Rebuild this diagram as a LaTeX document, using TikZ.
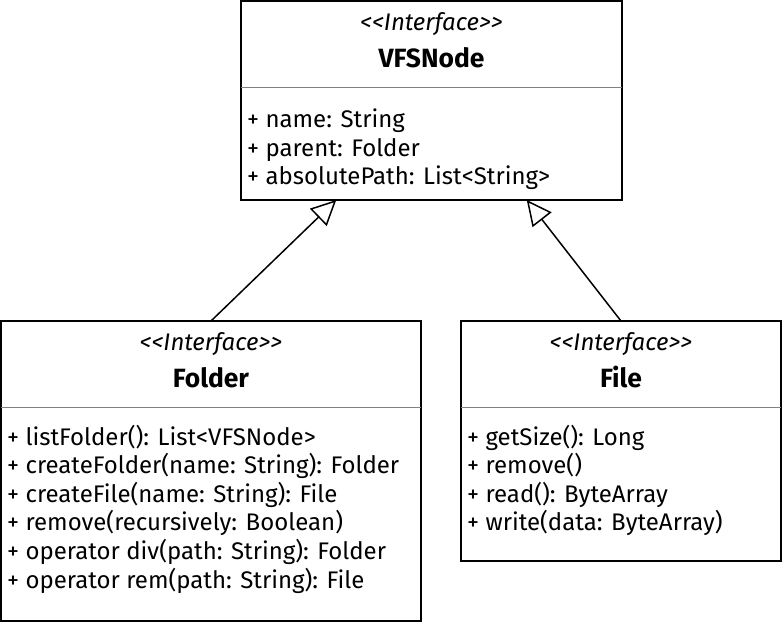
\documentclass[tikz,border=0pt]{standalone}
\usepackage{fontspec}
\setmainfont{Fira Sans}
\usetikzlibrary{arrows.meta,calc}
\definecolor{divgray}{RGB}{128,128,128}
\newlength\mylen
\newcommand\stereotxt{<\kern0pt<Interface>\kern0pt>}
\AtBeginDocument{%
\settowidth\mylen{\fontsize{10pt}{12pt}\selectfont + createFolder(name: String): Folder}%
\pgfmathsetmacro\bodysz{10*392/\mylen}%
\pgfmathsetmacro\titlesz{1.1*\bodysz}%
}
\tikzset{
  umlbox/.style={draw, line width=1.6pt, outer sep=0pt, inner sep=0pt, anchor=north west},
  divider/.style={draw=divgray, line width=1pt},
  member/.style={anchor=base west, inner sep=0pt, font=\fontsize{\bodysz pt}{\bodysz pt}\selectfont},
  stereo/.style={anchor=base, inner sep=0pt, font=\fontsize{\bodysz pt}{\bodysz pt}\selectfont\itshape},
  titletext/.style={anchor=base, inner sep=0pt, font=\fontsize{\titlesz pt}{\titlesz pt}\selectfont\bfseries},
  inherit/.style={line width=1.5pt, -{Triangle[open,length=25pt,width=24pt]}}
}
\begin{document}
\begin{tikzpicture}[x=1pt,y=-1pt]
\useasboundingbox (0,0) rectangle (782,622);

% boxes
\node[umlbox, minimum width=381pt, minimum height=199pt] (vfs) at (241,1) {};
\node[umlbox, minimum width=420pt, minimum height=300pt] (folder) at (1,321) {};
\node[umlbox, minimum width=320pt, minimum height=240pt] (file) at (461,321) {};

% dividers
\draw[divider] (vfs.west |- 0,87) -- (vfs.east |- 0,87);
\draw[divider] (folder.west |- 0,407) -- (folder.east |- 0,407);
\draw[divider] (file.west |- 0,407) -- (file.east |- 0,407);

% VFSNode
\node[stereo] (vfsst) at (431.5,30) {\stereotxt};
\node[titletext] (vfsti) at (431.5,67) {VFSNode};
\node[member] (v1) at (247,127.8) {+ name: String};
\node[member] (v2) at (247,156) {+ parent: Folder};
\node[member] (v3) at (247,184) {+ absolutePath: List<String>};

% Folder
\node[stereo] (fost) at (211,350) {\stereotxt};
\node[titletext] (foti) at (211,387) {Folder};
\node[member] (f1) at (7,445) {+ listFolder(): List<VFSNode>};
\node[member] (f2) at (7,473.6) {+ createFolder(name: String): Folder};
\node[member] (f3) at (7,502.2) {+ createFile(name: String): File};
\node[member] (f4) at (7,530.8) {+ remove(recursively: Boolean)};
\node[member] (f5) at (7,559.4) {+ operator div(path: String): Folder};
\node[member] (f6) at (7,588) {+ operator rem(path: String): File};

% File
\node[stereo] (fist) at (621,350) {\stereotxt};
\node[titletext] (fiti) at (621,387) {File};
\node[member] (g1) at (467,445) {+ getSize(): Long};
\node[member] (g2) at (467,473.6) {+ remove()};
\node[member] (g3) at (467,502.2) {+ read(): ByteArray};
\node[member] (g4) at (467,530.8) {+ write(data: ByteArray)};

% generalisations
\draw[inherit] (folder.north) -- ($(vfs.south west)!0.25!(vfs.south east)$);
\draw[inherit] (file.north) -- ($(vfs.south west)!0.75!(vfs.south east)$);
\end{tikzpicture}
\end{document}
